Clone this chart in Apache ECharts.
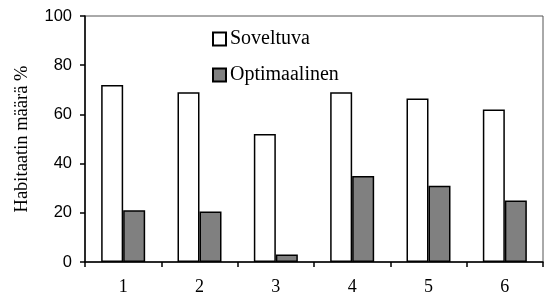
<!DOCTYPE html>
<html>
<head>
<meta charset="utf-8">
<script src="https://cdn.jsdelivr.net/npm/echarts@6/dist/echarts.min.js"></script>
<style>
  html, body { margin: 0; padding: 0; background: #fff; }
  #chart { width: 553px; height: 296px; }
</style>
</head>
<body>
<div id="chart"></div>
<script>
// luokat ja sarjat
const categories = ['1', '2', '3', '4', '5', '6'];
const soveltuva = [72, 69, 52, 69, 66.5, 62];
const optimaalinen = [21, 20.5, 3, 35, 31, 25];
const yTicks = [0, 20, 40, 60, 80, 100];

const serif = '"Liberation Serif", "Times New Roman", serif';
const sans = '"Liberation Sans", Arial, sans-serif';

const chart = echarts.init(document.getElementById('chart'));

chart.setOption({
  animation: false,
  grid: {
    left: 85, right: 10, top: 16, bottom: 34,
    show: true,
    borderColor: '#555',
    borderWidth: 1
  },
  legend: {
    orient: 'vertical',
    left: 207,
    top: 24,
    itemWidth: 13,
    itemHeight: 13,
    itemGap: 16,
    icon: 'rect',
    textStyle: { fontFamily: serif, fontSize: 20, color: '#000', padding: [0, 0, 0, -1] },
    data: ['Soveltuva', 'Optimaalinen']
  },
  xAxis: {
    type: 'category',
    data: categories,
    axisLine: { lineStyle: { color: '#000', width: 1.5 } },
    axisTick: { show: true, length: 5, lineStyle: { color: '#000', width: 1.5 } },
    axisLabel: { fontFamily: serif, fontSize: 18, color: '#000', margin: 16 }
  },
  yAxis: {
    type: 'value',
    min: yTicks[0],
    max: yTicks[yTicks.length - 1],
    interval: 20,
    name: 'Habitaatin määrä %',
    nameLocation: 'middle',
    nameGap: 53,
    nameTextStyle: { fontFamily: serif, fontSize: 18.5, color: '#000' },
    splitLine: { show: false },
    axisLine: { show: true, lineStyle: { color: '#000', width: 1.5 } },
    axisTick: { show: true, length: 5, lineStyle: { color: '#000', width: 1.5 } },
    axisLabel: { fontFamily: sans, fontSize: 16.5, color: '#000', margin: 13 }
  },
  series: [
    {
      name: 'Soveltuva',
      type: 'bar',
      data: soveltuva,
      barWidth: 22,
      barGap: '0%',
      itemStyle: { color: '#fff', borderColor: '#000', borderWidth: 1.5 }
    },
    {
      name: 'Optimaalinen',
      type: 'bar',
      data: optimaalinen,
      barWidth: 22,
      barGap: '0%',
      itemStyle: { color: '#808080', borderColor: '#000', borderWidth: 1.5 }
    }
  ]
});
</script>
</body>
</html>
